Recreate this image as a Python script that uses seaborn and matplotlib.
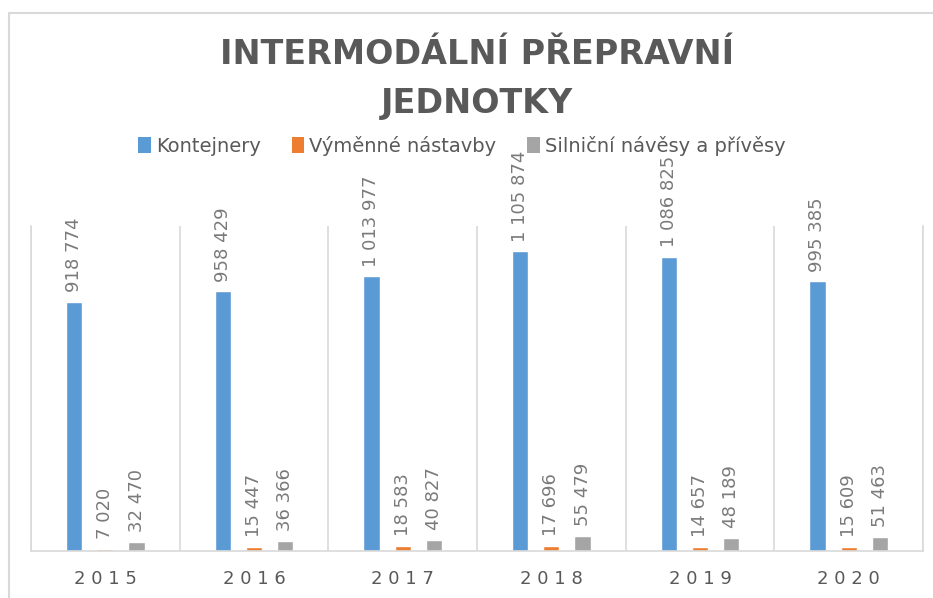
import numpy as np
import pandas as pd
import matplotlib
matplotlib.use("Agg")
import matplotlib.pyplot as plt
import seaborn as sns
from matplotlib.lines import Line2D
from matplotlib.patches import Patch

# Data
years = ["2015", "2016", "2017", "2018", "2019", "2020"]
kontejnery = [918774, 958429, 1013977, 1105874, 1086825, 995385]
vymenne = [7020, 15447, 18583, 17696, 14657, 15609]
silnicni = [32470, 36366, 40827, 55479, 48189, 51463]
series_names = ["Kontejnery", "Výměnné nástavby", "Silniční návěsy a přívěsy"]
colors = ["#5b9bd5", "#ed7d31", "#a5a5a5"]

df = pd.DataFrame({
    "Rok": years * 3,
    "Typ": [series_names[0]] * 6 + [series_names[1]] * 6 + [series_names[2]] * 6,
    "Počet": kontejnery + vymenne + silnicni,
})

sns.set_style("white")
plt.rcParams["font.family"] = ["DejaVu Sans"]

fig = plt.figure(figsize=(9.33, 5.98), dpi=100)
ax = fig.add_axes([31 / 933, 47 / 598, 892 / 933, 325 / 598])

sns.barplot(data=df, x="Rok", y="Počet", hue="Typ", palette=colors,
            width=0.63, gap=0.48, ax=ax, legend=False, saturation=1)

ax.set_ylim(0, 1200000)
ax.set_xlim(-0.5, len(years) - 0.5)
ax.set_xlabel("")
ax.set_ylabel("")
ax.set_yticks([])

# category separators
ax.set_xticks(np.arange(-0.5, len(years), 1.0), minor=True)
ax.grid(True, which="minor", axis="x", color="#d9d9d9", linewidth=1.2)
ax.tick_params(axis="x", which="both", length=0)
ax.set_xticks(range(len(years)))
ax.set_xticklabels([" ".join(y) for y in years], fontsize=13, color="#595959")
ax.tick_params(axis="x", pad=14)

ax.spines["top"].set_visible(False)
for s in ["left", "right", "bottom"]:
    ax.spines[s].set_color("#d9d9d9")
    ax.spines[s].set_linewidth(1.2)

def fmt(v):
    return f"{v:,}".replace(",", " ")

for cont in ax.containers:
    for bar in cont:
        h = bar.get_height()
        ax.annotate(fmt(int(round(h))), (bar.get_x() + bar.get_width() / 2, h),
                    xytext=(0, 7), textcoords="offset points", rotation=90,
                    ha="center", va="bottom", fontsize=13, color="#7a7a7a",
                    annotation_clip=False)

# title
fig.text(0.511, 1 - 55 / 598, "INTERMODÁLNÍ PŘEPRAVNÍ", ha="center", va="center",
         fontsize=24, fontweight="bold", color="#595959")
fig.text(0.511, 1 - 104 / 598, "JEDNOTKY", ha="center", va="center",
         fontsize=24, fontweight="bold", color="#595959")

handles = [Patch(facecolor=c, edgecolor="none") for c in colors]
fig.legend(handles, series_names, loc="center", bbox_to_anchor=(0.495, 1 - 146 / 598),
           ncol=3, frameon=False, fontsize=14, handlelength=0.65, handleheight=0.9,
           handletextpad=0.25, columnspacing=1.6, labelcolor="#595959")

# outer frame (top and left visible in reference)
fig.add_artist(Line2D([9 / 933, 1], [1 - 13 / 598, 1 - 13 / 598], color="#d9d9d9",
                      linewidth=1.5, transform=fig.transFigure))
fig.add_artist(Line2D([9 / 933, 9 / 933], [0, 1 - 13 / 598], color="#d9d9d9",
                      linewidth=1.5, transform=fig.transFigure))

fig.savefig("out.png", dpi=100, facecolor="white")
